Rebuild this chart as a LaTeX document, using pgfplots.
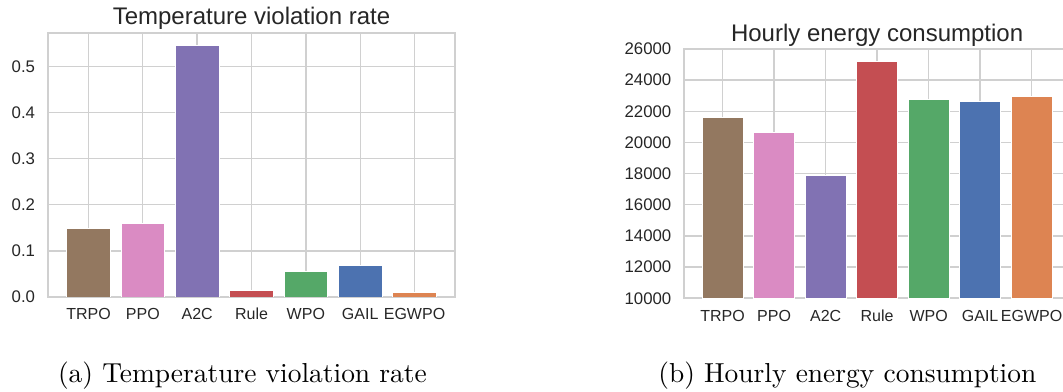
\documentclass[border=0pt]{standalone}
\usepackage{fontspec}
\usepackage{graphicx}
\usepackage{pgfplots}
\pgfplotsset{compat=1.18}
\newfontfamily\arial{Liberation Sans}
\definecolor{cbrown}{HTML}{937860}
\definecolor{cpink}{HTML}{DA8BC3}
\definecolor{cpurple}{HTML}{8172B3}
\definecolor{cred}{HTML}{C44E52}
\definecolor{cgreen}{HTML}{55A868}
\definecolor{cblue}{HTML}{4C72B0}
\definecolor{corange}{HTML}{DD8452}
\definecolor{txt}{HTML}{262626}
\definecolor{gridc}{HTML}{D0D0D0}
\pgfplotsset{
  mystyle/.style={
    scale only axis,
    axis line style={gridc, line width=1.2pt},
    grid=major, major grid style={gridc, line width=1pt},
    major tick length=0pt, tick style={draw=none},
    xtick={0,...,6}, xticklabels={TRPO,PPO,A2C,Rule,WPO,GAIL,EGWPO},
    xmin=-0.745, xmax=6.745,
    ticklabel style={text=txt, inner sep=0pt},
    yticklabel style={font=\arial\fontsize{12.6}{14}\selectfont},
    xticklabel style={font=\arial\fontsize{12}{14}\selectfont, anchor=north, text height=8.7pt, text depth=0pt},
    xticklabel shift=8.3pt, yticklabel shift=9.5pt,
    /pgf/number format/assume math mode=true,
    ybar, bar width=0.8,
    every axis title/.style={at={(0.5,1)}, anchor=base, font=\arial\fontsize{18}{20}\selectfont, text=txt, inner sep=0pt},
  },
  barplot/.style={fill=#1, draw=white, line width=0.6pt, bar shift=0pt},
}
\begin{document}
\begin{tikzpicture}
\begin{axis}[mystyle,
  at={(36pt,71.25pt)}, anchor=south west,
  width=305.25pt, height=198pt,
  ymin=0, ymax=0.572,
  ytick={0,0.1,0.2,0.3,0.4,0.5},
  yticklabel style={/pgf/number format/.cd, fixed, fixed zerofill, precision=1},
  title={Temperature violation rate},
  title style={yshift=6.5pt},
]
\addplot[barplot=cbrown] coordinates {(0,0.149)};
\addplot[barplot=cpink] coordinates {(1,0.160)};
\addplot[barplot=cpurple] coordinates {(2,0.545)};
\addplot[barplot=cred] coordinates {(3,0.015)};
\addplot[barplot=cgreen] coordinates {(4,0.055)};
\addplot[barplot=cblue] coordinates {(5,0.068)};
\addplot[barplot=corange] coordinates {(6,0.010)};
\end{axis}
\begin{axis}[mystyle,
  at={(513.2pt,70.3pt)}, anchor=south west,
  width=289.3pt, height=187pt,
  ymin=10000, ymax=26000,
  ytick={10000,12000,14000,16000,18000,20000,22000,24000,26000},
  scaled y ticks=false,
  yticklabel style={/pgf/number format/.cd, fixed, 1000 sep={}},
  title={Hourly energy consumption},
  title style={yshift=5.5pt},
]
\addplot[barplot=cbrown] coordinates {(0,21620)};
\addplot[barplot=cpink] coordinates {(1,20650)};
\addplot[barplot=cpurple] coordinates {(2,17900)};
\addplot[barplot=cred] coordinates {(3,25170)};
\addplot[barplot=cgreen] coordinates {(4,22790)};
\addplot[barplot=cblue] coordinates {(5,22640)};
\addplot[barplot=corange] coordinates {(6,22940)};
\end{axis}
\node[anchor=base, inner sep=0pt] at (181.8pt,6.75pt) {\scalebox{2.06}{(a) Temperature violation rate}};
\node[anchor=base, inner sep=0pt] at (635.5pt,6.75pt) {\scalebox{2.06}{(b) Hourly energy consumption}};
\pgfresetboundingbox
\useasboundingbox (0,0) rectangle (797.25pt,294pt);
\end{tikzpicture}
\end{document}
